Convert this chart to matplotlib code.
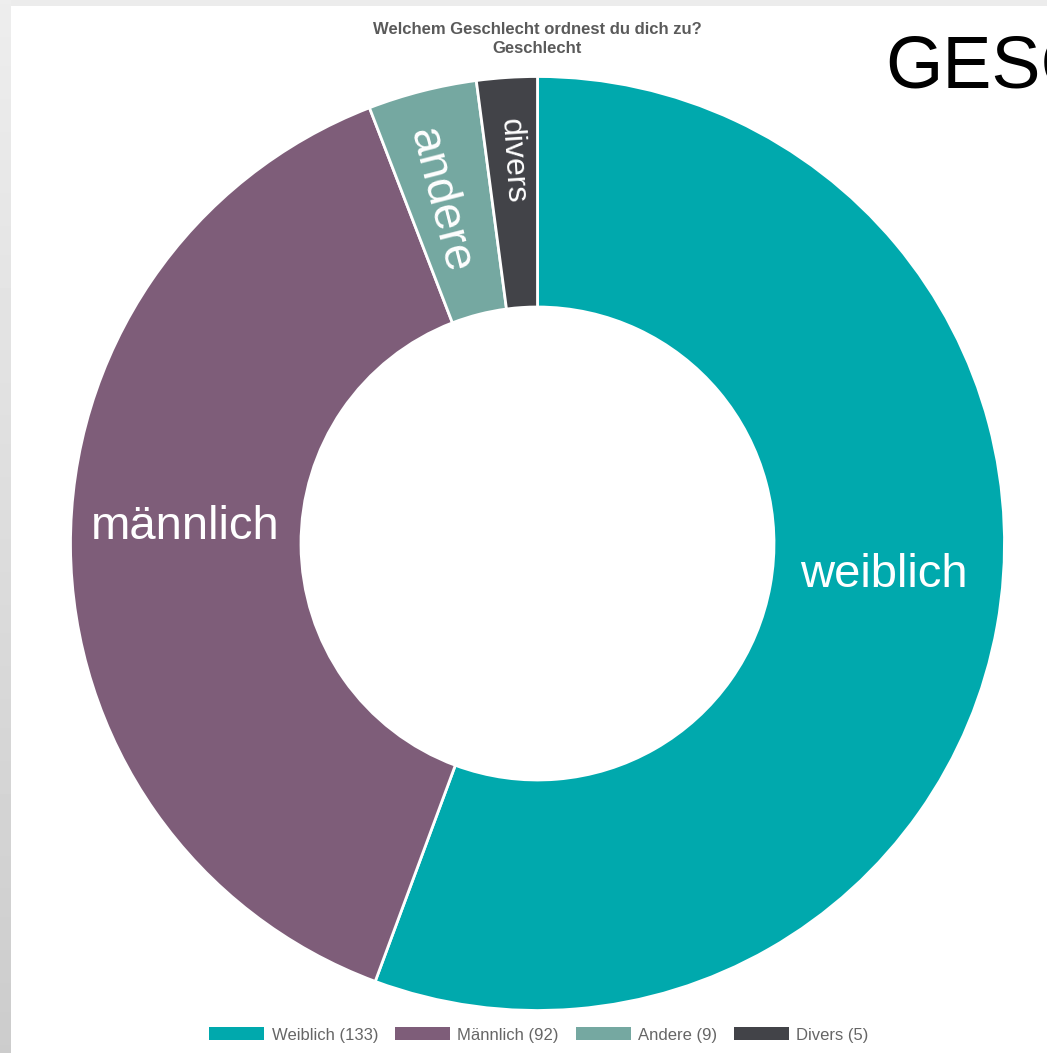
"""
Donut chart: Welchem Geschlecht ordnest du dich zu?
"""

import numpy as np
import matplotlib.pyplot as plt
from matplotlib.patches import Rectangle

plt.rcParams['font.family'] = ['Liberation Sans', 'DejaVu Sans']

# data
categories = ["Weiblich", "Männlich", "Andere", "Divers"]
counts = [133, 92, 9, 5]
slice_labels = ["weiblich", "männlich", "andere", "divers"]
colors = ["#00a9ad", "#7e5d79", "#75a8a1", "#424348"]

W, H = 1047, 1053
fig = plt.figure(figsize=(W / 100, H / 100), dpi=100)
fig.patch.set_facecolor("#ececec")

# left grey gradient strip + white panel
bg = fig.add_axes([0, 0, 1, 1], zorder=-10)
bg.set_xlim(0, W)
bg.set_ylim(H, 0)
bg.axis("off")
grad = np.linspace(0.93, 0.80, 256).reshape(-1, 1)
bg.imshow(grad, extent=[0, 11, H, 0], cmap="gray", vmin=0, vmax=1, aspect="auto")
bg.add_patch(Rectangle((11, 6), W - 11, H - 6, facecolor="white", edgecolor="none"))

# pie axes
cx, cy, R = 537.5, 543.5, 467
ax = fig.add_axes([(cx - R) / W, (H - cy - R) / H, 2 * R / W, 2 * R / H])

inner = 236.5 / R
wedges, _ = ax.pie(
    counts,
    colors=colors,
    startangle=90,
    counterclock=False,
    radius=1,
    wedgeprops=dict(width=1 - inner, edgecolor="white", linewidth=2),
)
ax.set_xlim(-1, 1)
ax.set_ylim(-1, 1)
ax.axis("off")

# slice labels (placed near each slice's middle angle)
total = sum(counts)
start = 0.0
sizes = [34, 34, 34, 23]
radii = [0.745, 0.755, 0.765, 0.82]
nudge = [-5.0, 3.0, -1.5, 0.0]  # degrees, clockwise
for i, (lab, c) in enumerate(zip(slice_labels, counts)):
    frac = c / total * 360
    mid = start + frac / 2  # clockwise from top
    start += frac
    theta = np.deg2rad(90 - mid - nudge[i])
    x, y = radii[i] * np.cos(theta), radii[i] * np.sin(theta)
    if c / total < 0.1:
        rot = (90 - mid) + 180
        rot = rot - 360 if rot > 180 else rot
    else:
        rot = 0
    ax.text(x, y, lab, color="white", fontsize=sizes[i], rotation=rot,
            rotation_mode="anchor", ha="center", va="center")

# title
fig.text(cx / W, 1 - 39 / H, "Welchem Geschlecht ordnest du dich zu?\nGeschlecht",
         ha="center", va="center", fontsize=12, fontweight="bold", color="#5a5a5a",
         linespacing=1.35)

# big header, clipped by figure edge
fig.text(885 / W, 1 - 88 / H, "GESCHLECHT", ha="left", va="baseline",
         fontsize=53, color="black")

# legend
handles = [Rectangle((0, 0), 1, 1, facecolor=col, edgecolor="none") for col in colors]
labels = [f"{n} ({c})" for n, c in zip(categories, counts)]
fig.legend(handles, labels, loc="center", bbox_to_anchor=(539 / W, 1 - 1035 / H),
           ncol=4, frameon=False, fontsize=12, handlelength=3.3, handleheight=0.8,
           handletextpad=0.45, columnspacing=1.0, labelcolor="#666666")

fig.savefig("out.png", dpi=100)
